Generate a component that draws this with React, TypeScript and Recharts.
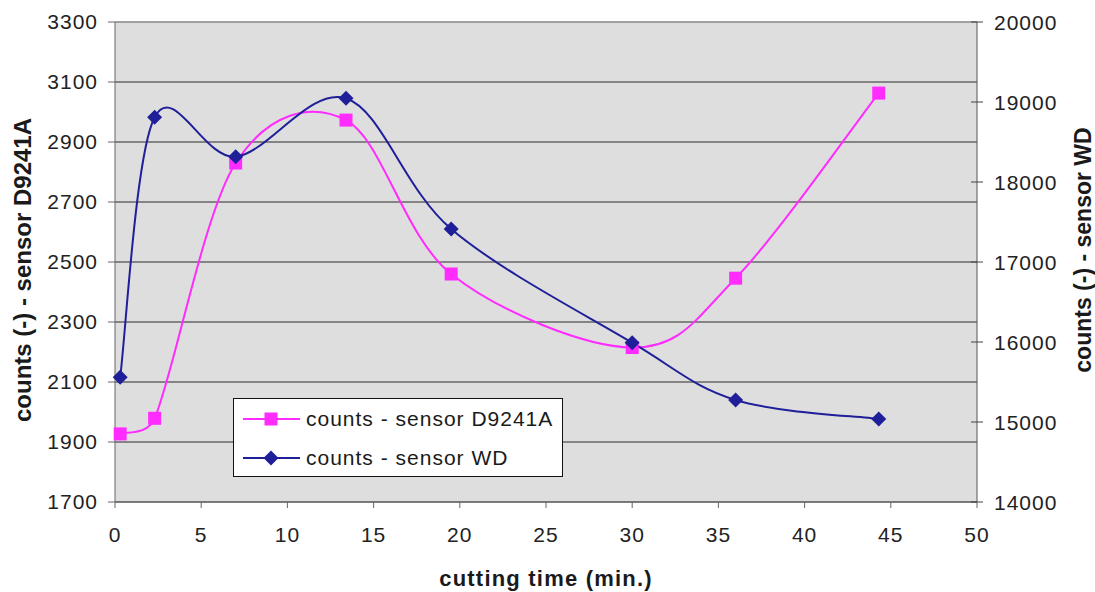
import React from "react";
import {
  CartesianGrid,
  Legend,
  Line,
  LineChart,
  ReferenceLine,
  XAxis,
  YAxis,
} from "recharts";

const cuttingTime = [0.3, 2.3, 7, 13.4, 19.5, 30, 36, 44.3];
const sensorD9241A = [1927, 1979, 2830, 2973, 2460, 2215, 2446, 3063];
const sensorWD = [15560, 18810, 18316, 19046, 17412, 15991, 15275, 15037];

const timeTicks = [0, 5, 10, 15, 20, 25, 30, 35, 40, 45, 50];
const leftTicks = [1700, 1900, 2100, 2300, 2500, 2700, 2900, 3100, 3300];
const rightTicks = [14000, 15000, 16000, 17000, 18000, 19000, 20000];

const data = cuttingTime.map((t, i) => ({
  t,
  d9241a: sensorD9241A[i],
  wd: sensorWD[i],
}));

const FONT = '"Liberation Sans", Arial, sans-serif';
const PINK = "#ff2bff";
const NAVY = "#1f1f99";

// Excel-like smoothed line: catmull-rom bezier, control arm capped at half the segment
function excelCurve(context: any) {
  let pts: number[][] = [];
  const arm = (a: number[], b: number[], seg: number) => {
    let dx = (b[0] - a[0]) / 6;
    let dy = (b[1] - a[1]) / 6;
    const len = Math.hypot(dx, dy);
    if (len > seg / 2 && len > 0) {
      dx *= seg / 2 / len;
      dy *= seg / 2 / len;
    }
    return [dx, dy];
  };
  return {
    areaStart() {},
    areaEnd() {},
    lineStart() {
      pts = [];
    },
    point(x: number, y: number) {
      pts.push([+x, +y]);
    },
    lineEnd() {
      const n = pts.length;
      if (!n) return;
      context.moveTo(pts[0][0], pts[0][1]);
      for (let i = 0; i < n - 1; i++) {
        const p0 = pts[Math.max(i - 1, 0)];
        const p1 = pts[i];
        const p2 = pts[i + 1];
        const p3 = pts[Math.min(i + 2, n - 1)];
        const seg = Math.hypot(p2[0] - p1[0], p2[1] - p1[1]);
        const a1 = arm(p0, p2, seg);
        const a2 = arm(p1, p3, seg);
        context.bezierCurveTo(
          p1[0] + a1[0],
          p1[1] + a1[1],
          p2[0] - a2[0],
          p2[1] - a2[1],
          p2[0],
          p2[1]
        );
      }
    },
  };
}

const SquareDot = (props: any) => {
  const { cx, cy } = props;
  if (cx == null || cy == null) return null;
  return <rect x={cx - 6.5} y={cy - 6.5} width={13} height={13} fill={PINK} />;
};

const DiamondDot = (props: any) => {
  const { cx, cy } = props;
  if (cx == null || cy == null) return null;
  const r = 7.5;
  return (
    <polygon
      points={`${cx},${cy - r} ${cx + r},${cy} ${cx},${cy + r} ${cx - r},${cy}`}
      fill={NAVY}
    />
  );
};

const RightTick = (props: any) => {
  const { x, y, payload } = props;
  const ax = x - 17;
  return (
    <g>
      <line x1={ax - 6} x2={ax + 6} y1={y} y2={y} stroke="#444" />
      <text
        x={x}
        y={y}
        dy="0.36em"
        fill="#222"
        fontSize={21}
        letterSpacing={1}
        fontFamily={FONT}
      >
        {payload.value}
      </text>
    </g>
  );
};

const LeftTitle = ({ viewBox }: any) => {
  const x = viewBox.x + 22;
  const y = viewBox.y + viewBox.height / 2 + 8;
  return (
    <text
      x={x}
      y={y}
      transform={`rotate(-90, ${x}, ${y})`}
      textAnchor="middle"
      dominantBaseline="central"
      fontSize={24}
      fontWeight="bold"
      fontFamily={FONT}
      fill="#1a1a1a"
    >
      counts (-) - sensor D9241A
    </text>
  );
};

const RightTitle = ({ viewBox }: any) => {
  const x = viewBox.x + 106;
  const y = viewBox.y + viewBox.height / 2 - 12;
  return (
    <text
      x={x}
      y={y}
      transform={`rotate(-90, ${x}, ${y})`}
      textAnchor="middle"
      dominantBaseline="central"
      fontSize={23}
      fontWeight="bold"
      fontFamily={FONT}
      fill="#1a1a1a"
    >
      counts (-) - sensor WD
    </text>
  );
};

const BottomTitle = ({ viewBox }: any) => {
  const x = viewBox.x + viewBox.width / 2;
  const y = viewBox.y + 76;
  return (
    <text
      x={x}
      y={y}
      textAnchor="middle"
      dominantBaseline="central"
      fontSize={22}
      fontWeight="bold"
      letterSpacing={1.2}
      fontFamily={FONT}
      fill="#1a1a1a"
    >
      cutting time (min.)
    </text>
  );
};

const renderLegend = (props: any) => {
  const { payload = [] } = props;
  return (
    <div
      style={{
        width: 330,
        height: 79,
        boxSizing: "border-box",
        border: "1px solid #111",
        background: "#fff",
        fontFamily: FONT,
        fontSize: 21,
        letterSpacing: 1,
        color: "#1a1a1a",
      }}
    >
      {payload.map((entry: any) => (
        <div
          key={entry.value}
          style={{ display: "flex", alignItems: "center", height: 39 }}
        >
          <svg width={72} height={20} style={{ flex: "none" }}>
            <line x1={9} x2={66} y1={10} y2={10} stroke={entry.color} strokeWidth={2} />
            {entry.dataKey === "wd" ? (
              <polygon points="37,2.5 44.5,10 37,17.5 29.5,10" fill={entry.color} />
            ) : (
              <rect x={30.5} y={3.5} width={13} height={13} fill={entry.color} />
            )}
          </svg>
          <span style={{ whiteSpace: "nowrap" }}>{entry.value}</span>
        </div>
      ))}
    </div>
  );
};

export default function App() {
  const tickStyle = { fill: "#222", fontSize: 21, fontFamily: FONT, letterSpacing: 1 };
  return (
    <div
      style={{
        position: "absolute",
        left: 0,
        top: 0,
        width: 1095,
        height: 592,
        background: "#fff",
      }}
    >
      <LineChart
        width={1095}
        height={592}
        data={data}
        margin={{ top: 22, right: 0, bottom: 0, left: 0 }}
      >
        <CartesianGrid
          yAxisId="left"
          vertical={false}
          stroke="#2a2a2a"
          fill="#dedede"
          fillOpacity={1}
        />
        <XAxis
          dataKey="t"
          type="number"
          domain={[0, 50]}
          ticks={timeTicks}
          height={90}
          tickSize={6}
          tickMargin={19}
          stroke="#666"
          tick={tickStyle}
          label={BottomTitle}
        />
        <YAxis
          yAxisId="left"
          orientation="left"
          domain={[1700, 3300]}
          ticks={leftTicks}
          width={115}
          tickSize={7}
          tickMargin={10}
          stroke="#666"
          tick={tickStyle}
          label={LeftTitle}
        />
        <YAxis
          yAxisId="right"
          orientation="right"
          domain={[14000, 20000]}
          ticks={rightTicks}
          width={118}
          tickSize={6}
          tickMargin={11}
          tickLine={false}
          stroke="#555"
          tick={RightTick}
          label={RightTitle}
        />
        <ReferenceLine yAxisId="left" y={3300} stroke="#a8a8a8" strokeWidth={1.5} />
        <Legend
          layout="vertical"
          align="center"
          verticalAlign="middle"
          content={renderLegend}
          wrapperStyle={{ left: 233, top: 398, width: 330, height: 79 }}
        />
        <Line
          yAxisId="left"
          type={excelCurve as any}
          dataKey="d9241a"
          name="counts - sensor D9241A"
          stroke={PINK}
          strokeWidth={2}
          dot={<SquareDot />}
          activeDot={false}
          isAnimationActive={false}
        />
        <Line
          yAxisId="right"
          type={excelCurve as any}
          dataKey="wd"
          name="counts - sensor WD"
          stroke={NAVY}
          strokeWidth={2}
          dot={<DiamondDot />}
          activeDot={false}
          isAnimationActive={false}
        />
      </LineChart>
    </div>
  );
}
